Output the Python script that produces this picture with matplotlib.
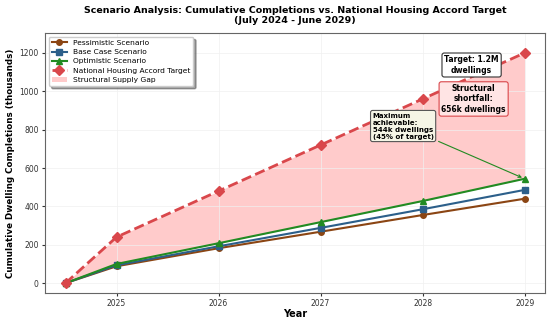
import numpy as np
import matplotlib.pyplot as plt

years = [2024.5, 2025, 2026, 2027, 2028, 2029]
pessimistic = [0, 88, 182, 268, 355, 440]
base_case = [0, 93, 192, 288, 385, 486]
optimistic = [0, 100, 208, 318, 428, 544]
target = [0, 240, 480, 720, 960, 1200]

fig, ax = plt.subplots(figsize=(5.5, 3.2), dpi=100)

ax.plot(years, pessimistic, color='#8B4513', lw=1.5, marker='o', ms=4, label='Pessimistic Scenario')
ax.plot(years, base_case, color='#2C5F8A', lw=1.5, marker='s', ms=4, label='Base Case Scenario')
ax.plot(years, optimistic, color='#228B22', lw=1.5, marker='^', ms=4.5, label='Optimistic Scenario')
ax.plot(years, target, color='#D9474B', lw=2, ls='--', marker='D', ms=5, label='National Housing Accord Target')
ax.fill_between(years, optimistic, target, color='#FF9999', alpha=0.5, lw=0, label='Structural Supply Gap')

ax.set_xticks([2025, 2026, 2027, 2028, 2029])
ax.set_xlim(2024.3, 2029.2)
ax.set_ylim(-52, 1304)
ax.set_yticks([0, 200, 400, 600, 800, 1000, 1200])
ax.tick_params(labelsize=5.5, length=2.5, pad=2, colors='#333333')
ax.grid(True, color='#f0f0f0', lw=0.5)
for s in ax.spines.values():
    s.set_color('#666666')

ax.set_xlabel('Year', fontsize=7, fontweight='bold', labelpad=0.5)
ax.set_ylabel('Cumulative Dwelling Completions (thousands)', fontsize=6.3, fontweight='bold', labelpad=3)
ax.set_title('Scenario Analysis: Cumulative Completions vs. National Housing Accord Target\n(July 2024 - June 2029)',
             fontsize=6.8, fontweight='bold', pad=7, linespacing=1.15)

ax.legend(loc='upper left', fontsize=5.4, frameon=True, fancybox=True, shadow=True,
          borderpad=0.4, labelspacing=0.4, handlelength=2)

ax.annotate('Target: 1.2M\ndwellings', xy=(2029, 1200), xytext=(2028.48, 1137),
            fontsize=5.5, fontweight='bold', ha='center', va='center',
            bbox=dict(boxstyle='round,pad=0.3', fc='white', ec='#333333', lw=0.8))
ax.text(2028.5, 960, 'Structural\nshortfall:\n656k dwellings', fontsize=5.5, fontweight='bold',
        ha='center', va='center',
        bbox=dict(boxstyle='round,pad=0.3', fc='#FFE4E4', ec='#D9474B', lw=0.8))
ax.annotate('Maximum\nachievable:\n544k dwellings\n(45% of target)', xy=(2029, 544), xytext=(2027.51, 819),
            fontsize=5, fontweight='bold', ha='left', va='center',
            bbox=dict(boxstyle='round,pad=0.3', fc='#F5F5E6', ec='#555555', lw=0.8),
            arrowprops=dict(arrowstyle='->', color='#228B22', lw=0.8))

plt.subplots_adjust(left=0.082, right=0.991, top=0.897, bottom=0.084)
plt.savefig('out.png', dpi=100)
